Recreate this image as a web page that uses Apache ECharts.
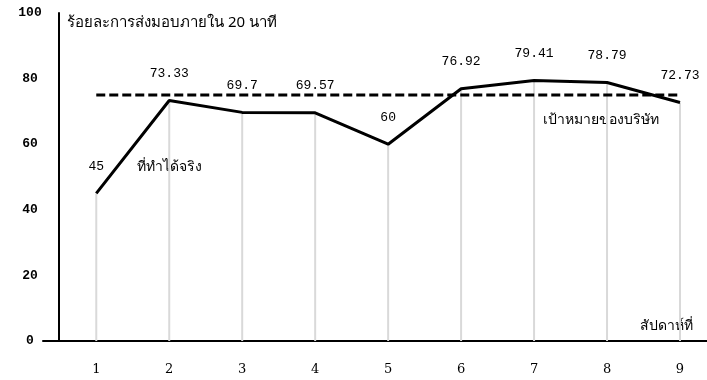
<!DOCTYPE html>
<html>
<head>
<meta charset="utf-8">
<script src="https://cdn.jsdelivr.net/npm/echarts@6/dist/echarts.min.js"></script>
<style>
  html, body { margin: 0; padding: 0; background: #fff; }
  #chart { width: 707px; height: 380px; }
</style>
</head>
<body>
<div id="chart"></div>
<script>
// Weekly on-time delivery rate versus company target
const weeks = [1, 2, 3, 4, 5, 6, 7, 8, 9];
const actual = [45, 73.33, 69.7, 69.57, 60, 76.92, 79.41, 78.79, 72.73];
const target = [75, 75, 75, 75, 75, 75, 75, 75, 75];
const yTicks = [0, 20, 40, 60, 80, 100];

const numFont = '"Liberation Mono", "DejaVu Sans Mono", monospace';
const thaiFont = '"Noto Sans", "DejaVu Sans", sans-serif';

const actualPts = weeks.map((w, i) => [w, actual[i]]);
const targetPts = weeks.map((w, i) => [w, target[i]]);

const chart = echarts.init(document.getElementById('chart'));
chart.setOption({
  animation: false,
  backgroundColor: '#fff',
  grid: { left: 43, right: 0, top: 13, bottom: 39 },
  xAxis: {
    type: 'value',
    min: 0.27,
    max: 9.37,
    splitLine: { show: false },
    axisLine: { show: true, lineStyle: { color: '#000', width: 2 } },
    axisTick: { show: false },
    axisLabel: {
      customValues: weeks,
      margin: 22,
      color: '#000',
      fontSize: 13,
      fontFamily: '"DejaVu Serif", serif'
    },
    name: 'สัปดาห์ที่',
    nameLocation: 'end',
    nameGap: 0,
    nameTextStyle: {
      color: '#000', fontSize: 14, fontFamily: thaiFont,
      align: 'right', verticalAlign: 'bottom', padding: [0, 14, 8, 0]
    }
  },
  yAxis: {
    type: 'value',
    min: 0,
    max: 100,
    interval: 20,
    offset: -16,
    splitLine: { show: false },
    axisLine: { show: true, lineStyle: { color: '#000', width: 2 } },
    axisTick: { show: false },
    axisLabel: {
      customValues: yTicks,
      margin: 29,
      align: 'center',
      color: '#000',
      fontSize: 13,
      fontWeight: 'bold',
      fontFamily: numFont
    },
    name: 'ร้อยละการส่งมอบภายใน 20 นาที',
    nameLocation: 'end',
    nameGap: 0,
    nameTextStyle: {
      color: '#000', fontSize: 15, fontFamily: thaiFont,
      align: 'left', verticalAlign: 'top', padding: [2, 0, 0, 8]
    }
  },
  graphic: [
    {
      type: 'text', left: 137, top: 160,
      style: { text: 'ที่ทำได้จริง', fill: '#000', font: '14px ' + thaiFont }
    },
    {
      type: 'text', left: 543, top: 113,
      style: { text: 'เป้าหมายของบริษัท', fill: '#000', font: '14px ' + thaiFont }
    }
  ],
  series: [
    {
      // drop lines from each weekly value down to the axis
      type: 'bar',
      data: actualPts,
      barWidth: 2,
      itemStyle: { color: '#d9d9d9' },
      silent: true,
      z: 1
    },
    {
      type: 'line',
      data: targetPts,
      symbol: 'none',
      lineStyle: { color: '#000', width: 3, type: [9, 4] },
      z: 3
    },
    {
      type: 'line',
      data: actualPts,
      symbol: 'circle',
      symbolSize: 1,
      showSymbol: true,
      itemStyle: { color: 'rgba(0,0,0,0)' },
      lineStyle: { color: '#000', width: 3 },
      label: {
        show: true,
        position: 'top',
        distance: 20,
        color: '#000',
        fontSize: 13,
        fontFamily: numFont,
        formatter: p => String(p.value[1])
      },
      z: 4
    }
  ]
});
</script>
</body>
</html>
